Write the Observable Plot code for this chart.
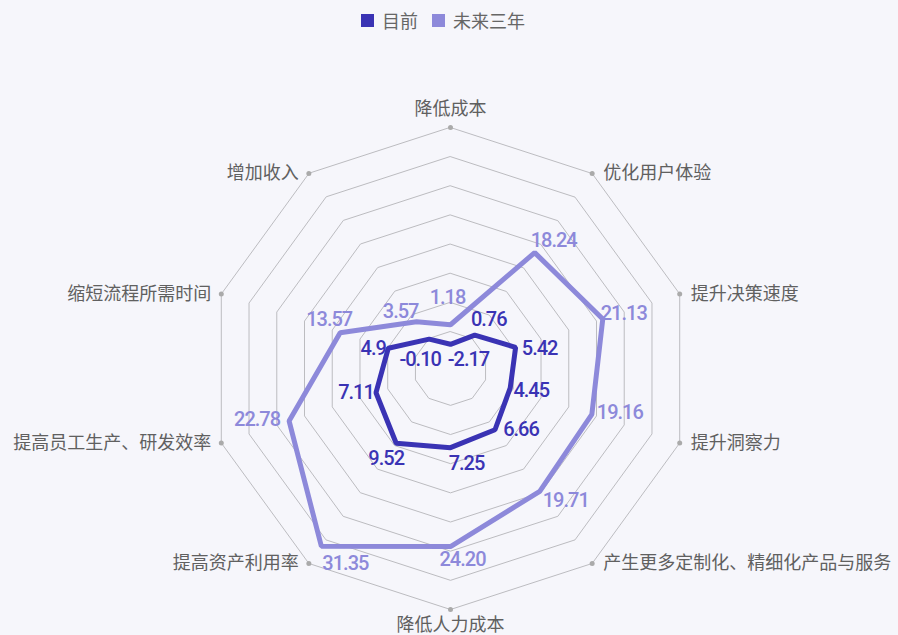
<!DOCTYPE html>
<html>
<head>
<meta charset="utf-8">
<script src="https://cdn.jsdelivr.net/npm/d3@7"></script>
<script src="https://cdn.jsdelivr.net/npm/@observablehq/plot@0.6"></script>
<style>
  html, body { margin: 0; padding: 0; background: #f6f6fb; }
  #wrap { width: 898px; height: 635px; position: relative; overflow: hidden; }
  #legend { height: 40px; display: flex; align-items: center; padding-left: 361px; box-sizing: border-box;
            font-family: "Noto Sans CJK SC", sans-serif; font-size: 18px; color: #666; }
  .item { display: flex; align-items: center; margin-right: 14px; }
  .sw { width: 13px; height: 13px; margin-right: 8px; }
  .vlabel text { letter-spacing: -1px; }
</style>
</head>
<body>
<div id="wrap">
  <div id="legend"></div>
  <div id="chart"></div>
</div>
<script>
// ---------- data ----------
const axes = ["降低成本", "优化用户体验", "提升决策速度", "提升洞察力", "产生更多定制化、精细化产品与服务",
              "降低人力成本", "提高资产利用率", "提高员工生产、研发效率", "缩短流程所需时间", "增加收入"];
const seriesNames = ["目前", "未来三年"];
const current = [-2.17, 0.76, 5.42, 4.45, 6.66, 7.25, 9.52, 7.11, 4.9, -0.10];
const future = [1.18, 18.24, 21.13, 19.16, 19.71, 24.20, 31.35, 22.78, 13.57, 3.57];
const currentText = ["-2.17", "0.76", "5.42", "4.45", "6.66", "7.25", "9.52", "7.11", "4.9", "-0.10"];
const futureText = ["1.18", "18.24", "21.13", "19.16", "19.71", "24.20", "31.35", "22.78", "13.57", "3.57"];
const ringTicks = [0, 5, 10, 15, 20, 25, 30, 35];
const VMIN = -6.32, VMAX = 35;

// ---------- layout / style ----------
const colors = ["#3a33b4", "#8d89da"];
const R = 241;            // outer radius in px
const CX = 450, CY = 328; // centre inside the svg
// label offsets in px (label centre minus vertex)
const currentOffset = [[18,15],[14,-15],[24,1],[21,3],[26,0],[16,16],[-10,15],[-20,0],[-15,0],[-9,20]];
const futureOffset = [[-3,-27],[19,-12],[21,-5],[28,-2],[26,9],[12,13],[24,17],[-32,-1],[-11,-13],[-16,-10]];

const n = axes.length;
const ang = i => i * 2 * Math.PI / n;
const rn = v => (v - VMIN) / (VMAX - VMIN);
const px = v => v / R;

// rings
const rings = [];
for (const t of ringTicks) for (let i = 0; i < n; i++)
  rings.push({ring: t, x: rn(t) * Math.sin(ang(i)), y: rn(t) * Math.cos(ang(i))});

// outer vertices
const outer = axes.map((a, i) => ({axis: a, i, x: Math.sin(ang(i)), y: Math.cos(ang(i))}));

// series rows
const rows = [];
[[current, currentText, currentOffset], [future, futureText, futureOffset]].forEach(([vals, txt, off], s) => {
  vals.forEach((v, i) => {
    const x = rn(v) * Math.sin(ang(i)), y = rn(v) * Math.cos(ang(i));
    rows.push({series: seriesNames[s], axis: axes[i], value: v, label: txt[i], x, y,
               lx: x + px(off[i][0]), ly: y - px(off[i][1])});
  });
});
const futureRows = rows.filter(d => d.series === seriesNames[1]);
const currentRows = rows.filter(d => d.series === seriesNames[0]);

const side = d => { const s = Math.sin(ang(d.i)); return s > 0.1 ? "r" : s < -0.1 ? "l" : (Math.cos(ang(d.i)) > 0 ? "t" : "b"); };

const chart = Plot.plot({
  width: 898,
  height: 595,
  margin: 0,
  style: {background: "transparent", overflow: "visible"},
  x: {domain: [-1, 1], range: [CX - R, CX + R], axis: null},
  y: {domain: [-1, 1], range: [CY + R, CY - R], axis: null},
  color: {domain: seriesNames, range: colors},
  marks: [
    Plot.line(rings, {x: "x", y: "y", z: "ring", curve: "linear-closed", stroke: "#bcbcc0", strokeWidth: 1}),
    Plot.dot(outer, {x: "x", y: "y", r: 2.5, fill: "#aaaaaa"}),
    Plot.text(outer.filter(d => side(d) === "r"), {x: "x", y: "y", text: "axis", textAnchor: "start", dx: 11, dy: 0,
      fontSize: 18, fill: "#606060", fontFamily: "Noto Sans CJK SC"}),
    Plot.text(outer.filter(d => side(d) === "l"), {x: "x", y: "y", text: "axis", textAnchor: "end", dx: -10, dy: 0,
      fontSize: 18, fill: "#606060", fontFamily: "Noto Sans CJK SC"}),
    Plot.text(outer.filter(d => side(d) === "t"), {x: "x", y: "y", text: "axis", textAnchor: "middle", dy: -18,
      fontSize: 18, fill: "#606060", fontFamily: "Noto Sans CJK SC"}),
    Plot.text(outer.filter(d => side(d) === "b"), {x: "x", y: "y", text: "axis", textAnchor: "middle", dy: 16,
      fontSize: 18, fill: "#606060", fontFamily: "Noto Sans CJK SC"}),
    Plot.line(futureRows, {x: "x", y: "y", stroke: "series", curve: "linear-closed", strokeWidth: 5, strokeLinejoin: "miter"}),
    Plot.line(currentRows, {x: "x", y: "y", stroke: "series", curve: "linear-closed", strokeWidth: 5, strokeLinejoin: "miter"}),
    Plot.text(rows, {x: "lx", y: "ly", text: "label", fill: "series", fontSize: 20, fontWeight: 500,
      fontFamily: "Roboto", textAnchor: "middle", lineAnchor: "middle", className: "vlabel"})
  ]
});
document.getElementById("chart").appendChild(chart);

// legend
const lg = document.getElementById("legend");
seriesNames.forEach((name, i) => {
  const it = document.createElement("div");
  it.className = "item";
  it.innerHTML = `<div class="sw" style="background:${colors[i]}"></div><span>${name}</span>`;
  lg.appendChild(it);
});
</script>
</body>
</html>
